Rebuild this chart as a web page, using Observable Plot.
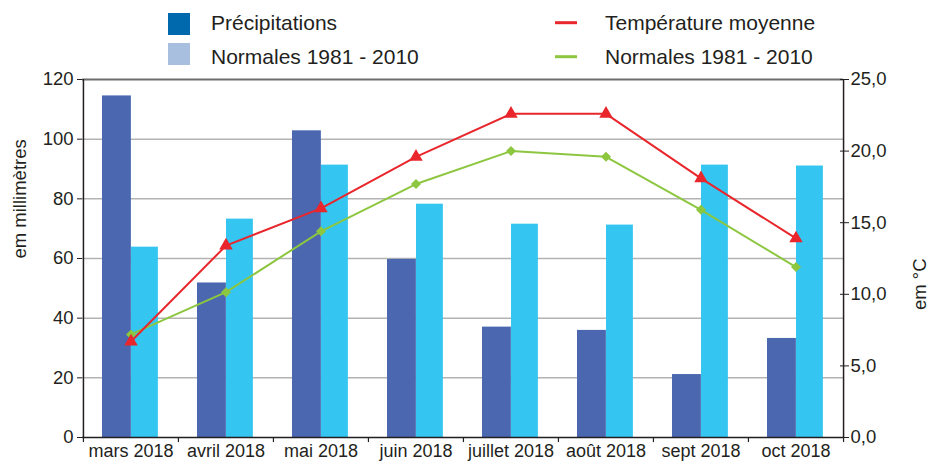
<!DOCTYPE html>
<html><head><meta charset="utf-8">
<script src="https://cdn.jsdelivr.net/npm/d3@7"></script>
<script src="https://cdn.jsdelivr.net/npm/@observablehq/plot@0.6"></script>
<style>
body{margin:0;background:#fff;}
#chart{width:931px;height:461px;position:relative;font-family:"Liberation Sans",Arial,sans-serif;color:#231f20;}
#chart svg{display:block;}
</style></head><body><div id="chart"></div>
<script>
const months = ["mars 2018","avril 2018","mai 2018","juin 2018","juillet 2018","août 2018","sept 2018","oct 2018"];
const precip = [114.5, 51.8, 102.8, 59.7, 37.0, 35.9, 21.1, 33.2];
const precipNormals = [63.8, 73.2, 91.3, 78.2, 71.5, 71.2, 91.3, 91.0];
const temp = [6.7, 13.4, 16.0, 19.6, 22.6, 22.6, 18.1, 13.9];
const tempNormals = [7.2, 10.15, 14.4, 17.7, 20.0, 19.6, 15.9, 11.9];
const leftTicks = [0, 20, 40, 60, 80, 100, 120];
const rightTicks = [0, 5, 10, 15, 20, 25];
const legendLabels = ["Précipitations", "Normales 1981 - 2010", "Température moyenne", "Normales 1981 - 2010"];
const leftLabel = "em millimètres";
const rightLabel = "em °C";

const K = 120 / 25; // °C -> mm on the shared y scale
const idx = d3.range(months.length);
const font = "'Liberation Sans', Arial, sans-serif";
const ink = "#231f20";

// Legend (above the plot)
const legend = d3.create("svg").attr("width", 931).attr("height", 70)
  .style("font-family", font).style("font-size", "21px").attr("fill", ink);
legend.append("rect").attr("x", 168).attr("y", 13).attr("width", 22).attr("height", 22).attr("fill", "#0068ad");
legend.append("rect").attr("x", 168).attr("y", 43).attr("width", 22).attr("height", 22).attr("fill", "#a8bfe0");
legend.append("text").attr("x", 211).attr("y", 29.5).text(legendLabels[0]);
legend.append("text").attr("x", 211).attr("y", 63.5).text(legendLabels[1]);
legend.append("line").attr("x1", 555).attr("x2", 577).attr("y1", 22.7).attr("y2", 22.7).attr("stroke", "#e8262b").attr("stroke-width", 3);
legend.append("line").attr("x1", 555).attr("x2", 577).attr("y1", 56.7).attr("y2", 56.7).attr("stroke", "#8dc63f").attr("stroke-width", 3);
legend.append("text").attr("x", 605).attr("y", 29.5).text(legendLabels[2]);
legend.append("text").attr("x", 605).attr("y", 63.5).text(legendLabels[3]);

const W = 931, mL = 82, mR = 88;
const bw = (W - mL - mR) / months.length;

const chart = Plot.plot({
  width: W,
  height: 391,
  marginTop: 9,
  marginBottom: 24,
  marginLeft: mL,
  marginRight: mR,
  style: {fontFamily: font, fontSize: "18px", color: ink, background: "white", overflow: "visible"},
  x: {type: "band", domain: months, padding: 0},
  y: {domain: [0, 120]},
  marks: [
    Plot.ruleY(leftTicks.filter(d => d > 0 && d < 120), {y: d => d, stroke: "#b3b3b3", strokeWidth: 1.5}),
    Plot.ruleY([120], {stroke: "#6d6d6d", strokeWidth: 2}),
    Plot.barY(idx, {x: i => months[i], y: i => precip[i], fill: "#4a67b0", insetLeft: 19, insetRight: bw - 48}),
    Plot.barY(idx, {x: i => months[i], y: i => precipNormals[i], fill: "#35c5f1", insetLeft: 48, insetRight: bw - 75}),
    Plot.ruleY([0], {stroke: ink, strokeWidth: 1.5}),
    Plot.ruleX([months[0]], {x: d => d, dx: -bw / 2, y1: 0, y2: 120, stroke: ink, strokeWidth: 1.5}),
    Plot.ruleX([months[months.length - 1]], {x: d => d, dx: bw / 2, y1: 0, y2: 120, stroke: ink, strokeWidth: 1.5}),
    Plot.ruleX(months, {x: d => d, dx: -bw / 2, y1: 0, y2: -1.7, stroke: ink, strokeWidth: 1.2}),
    Plot.ruleX([months[months.length - 1]], {x: d => d, dx: bw / 2, y1: 0, y2: -1.7, stroke: ink, strokeWidth: 1.2}),
    Plot.line(idx, {x: i => months[i], y: i => tempNormals[i] * K, stroke: "#8dc63f", strokeWidth: 2}),
    Plot.dot(idx, {x: i => months[i], y: i => tempNormals[i] * K, fill: "#8dc63f", symbol: "square", rotate: 45, r: 4}),
    Plot.line(idx, {x: i => months[i], y: i => temp[i] * K, stroke: "#e8262b", strokeWidth: 2}),
    Plot.dot(idx, {x: i => months[i], y: i => temp[i] * K, fill: "#e8262b", symbol: "triangle", r: 5}),
    Plot.axisY(leftTicks, {anchor: "left", tickSize: 5, tickPadding: 4, label: null, fontSize: 18.5}),
    Plot.axisY(rightTicks.map(t => t * K), {anchor: "right", tickSize: 9, dx: -4, tickPadding: 2, label: null, fontSize: 18.5,
      tickFormat: d => (d / K).toFixed(1).replace(".", ",")}),
    Plot.axisX({tickSize: 0, tickPadding: 7, label: null, fontSize: 18}),
    Plot.text([leftLabel], {frameAnchor: "left", dx: -62, rotate: -90, text: d => d, fontSize: 18.5, fill: ink}),
    Plot.text([rightLabel], {frameAnchor: "right", dx: 77, rotate: -90, text: d => d, fontSize: 18.5, fill: ink})
  ]
});

const root = document.getElementById("chart");
root.appendChild(legend.node());
root.appendChild(chart);
</script></body></html>
